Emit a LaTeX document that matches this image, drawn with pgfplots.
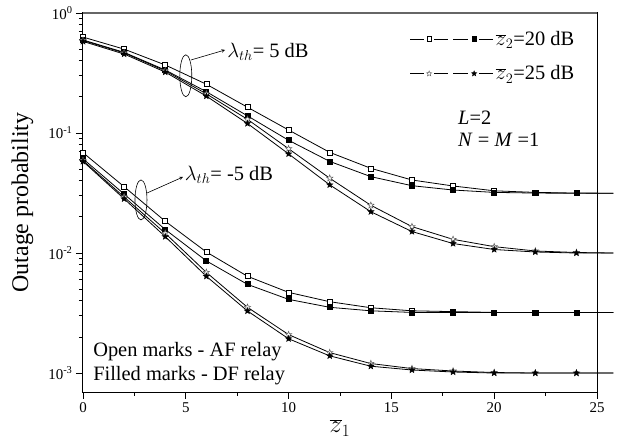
\documentclass[border=0pt]{standalone}
\usepackage{pgfplots}
\pgfplotsset{compat=1.18}
\usepackage{fontspec}
\setmainfont{Liberation Serif}
\pgfdeclareplotmark{pstar}{%
 \pgfpathmoveto{\pgfpointpolar{90}{\pgfplotmarksize}}%
 \pgfpathlineto{\pgfpointpolar{126}{0.42\pgfplotmarksize}}%
 \pgfpathlineto{\pgfpointpolar{162}{\pgfplotmarksize}}%
 \pgfpathlineto{\pgfpointpolar{198}{0.42\pgfplotmarksize}}%
 \pgfpathlineto{\pgfpointpolar{234}{\pgfplotmarksize}}%
 \pgfpathlineto{\pgfpointpolar{270}{0.42\pgfplotmarksize}}%
 \pgfpathlineto{\pgfpointpolar{306}{\pgfplotmarksize}}%
 \pgfpathlineto{\pgfpointpolar{342}{0.42\pgfplotmarksize}}%
 \pgfpathlineto{\pgfpointpolar{18}{\pgfplotmarksize}}%
 \pgfpathlineto{\pgfpointpolar{54}{0.42\pgfplotmarksize}}%
 \pgfpathclose\pgfusepathqfillstroke}

\pgfplotstableread{
x y
0 0.63
2 0.50
4 0.369
6 0.255
8 0.164
10 0.106
12 0.069
14 0.0508
16 0.0406
18 0.0362
20 0.0330
22 0.0320
24 0.0316
25.8 0.0315
}\afA
\pgfplotstableread{
x y
0 0.596
2 0.47
4 0.335
6 0.221
8 0.139
10 0.087
12 0.058
14 0.0433
16 0.0364
18 0.0335
20 0.0320
22 0.0316
24 0.0315
25.8 0.0315
}\dfA
\pgfplotstableread{
x y
0 0.59
2 0.465
4 0.33
6 0.212
8 0.130
10 0.074
12 0.042
14 0.025
16 0.0166
18 0.0130
20 0.0113
22 0.0104
24 0.0101
25.8 0.0100
}\afB
\pgfplotstableread{
x y
0 0.58
2 0.455
4 0.322
6 0.203
8 0.120
10 0.067
12 0.037
14 0.0221
16 0.0151
18 0.0120
20 0.0107
22 0.0102
24 0.0100
25.8 0.0100
}\dfB
\pgfplotstableread{
x y
0 0.0686
2 0.0357
4 0.0184
6 0.0102
8 0.0064
10 0.0047
12 0.00393
14 0.0035
16 0.0033
18 0.00325
20 0.0032
22 0.0032
24 0.0032
25.8 0.0032
}\afC
\pgfplotstableread{
x y
0 0.061
2 0.031
4 0.0157
6 0.0086
8 0.00548
10 0.00411
12 0.00353
14 0.0033
16 0.0032
18 0.0032
20 0.0032
22 0.0032
24 0.0032
25.8 0.0032
}\dfC
\pgfplotstableread{
x y
0 0.059
2 0.0293
4 0.0146
6 0.0069
8 0.00353
10 0.00209
12 0.00148
14 0.00120
16 0.00109
18 0.00104
20 0.00101
22 0.00100
24 0.00100
25.8 0.00100
}\afD
\pgfplotstableread{
x y
0 0.058
2 0.0283
4 0.0137
6 0.0064
8 0.00329
10 0.00193
12 0.00139
14 0.00114
16 0.00106
18 0.00102
20 0.00100
22 0.00100
24 0.00100
25.8 0.00100
}\dfD

\begin{document}
\begin{tikzpicture}
\begin{axis}[
 scale only axis, width=514bp, height=379bp,
 ymode=log, xmin=0, xmax=25, ymin=6.95e-4, ymax=1,
 clip=false,
 axis line style={line width=1bp},
 xtick={0,5,10,15,20,25}, minor x tick num=1,
 ytick={1e-3,1e-2,1e-1,1},
 yticklabels={10\textsuperscript{-3},10\textsuperscript{-2},10\textsuperscript{-1},10\textsuperscript{0}},
 xtick pos=bottom, ytick pos=left, tick align=outside,
 major tick length=7bp, minor tick length=4bp,
 tick style={line width=0.8bp, black},
 /pgf/number format/assume math mode=true,
 tick label style={font=\fontsize{15}{17}\selectfont},
 every axis y label/.style={at={(axis description cs:-0.118,0.5)}, rotate=90, anchor=center, font=\fontsize{24}{26}\selectfont},
 every axis x label/.style={at={(axis description cs:0.5,-0.095)}, anchor=center, font=\fontsize{24}{26}\selectfont},
 ylabel={Outage probability},
 xlabel={$\overline{z}_1$},
 legend style={at={(rel axis cs:0.96,0.958)}, anchor=north east, draw=none, fill=none, font=\fontsize{20.5}{22}\selectfont, inner sep=0pt, row sep=15bp},
 legend cell align=left,
]
\addlegendimage{legend image code/.code={
 \draw[line width=0.8bp] (0bp,0bp)--(14bp,0bp) (24bp,0bp)--(38bp,0bp) (43bp,0bp)--(58bp,0bp) (69bp,0bp)--(83bp,0bp);
 \draw[line width=0.5bp, fill=white] (16.8bp,-2.2bp) rectangle (21.2bp,2.2bp);
 \draw[line width=0.5bp, fill=black] (61.8bp,-2.2bp) rectangle (66.2bp,2.2bp);
}}
\addlegendentry{$\overline{z}_2$=20 dB}
\addlegendimage{legend image code/.code={
 \draw[line width=0.8bp] (0bp,0bp)--(14bp,0bp) (24bp,0bp)--(38bp,0bp) (43bp,0bp)--(58bp,0bp) (69bp,0bp)--(83bp,0bp);
 \begin{scope}[shift={(19bp,0bp)}, draw=gray!70!black, fill=white, line width=0.4bp]
  \pgfsetplotmarksize{2.8bp}\pgfuseplotmark{pstar}
 \end{scope}
 \begin{scope}[shift={(64bp,0bp)}, draw=black, fill=black, line width=0.4bp]
  \pgfsetplotmarksize{2.8bp}\pgfuseplotmark{pstar}
 \end{scope}
}}
\addlegendentry{$\overline{z}_2$=25 dB}

\pgfplotsset{every axis plot/.append style={line width=0.8bp, black, mark indices={1,...,13}}}
\addplot[mark=square*, mark size=2.5bp, mark options={fill=white, line width=0.6bp}, forget plot] table {\afA};
\addplot[mark=square*, mark size=2.5bp, mark options={fill=black}, forget plot] table {\dfA};
\addplot[mark=pstar, mark size=3.3bp, mark options={fill=white, draw=gray!70!black, line width=0.5bp}, forget plot] table {\afB};
\addplot[mark=pstar, mark size=3.3bp, mark options={fill=black, line width=0.4bp}, forget plot] table {\dfB};
\addplot[mark=square*, mark size=2.5bp, mark options={fill=white, line width=0.6bp}, forget plot] table {\afC};
\addplot[mark=square*, mark size=2.5bp, mark options={fill=black}, forget plot] table {\dfC};
\addplot[mark=pstar, mark size=3.3bp, mark options={fill=white, draw=gray!70!black, line width=0.5bp}, forget plot] table {\afD};
\addplot[mark=pstar, mark size=3.3bp, mark options={fill=black, line width=0.4bp}, forget plot] table {\dfD};

\draw[gray!80!black, line width=1.2bp] (rel axis cs:0,1)--(rel axis cs:1,1);
\coordinate (O) at (rel axis cs:0,0);

% annotations
\draw[line width=0.6bp] (axis cs:5.0,0.3) ellipse [x radius=6bp, y radius=21bp];
\draw[line width=0.6bp, -stealth] (axis cs:5.25,0.406) -- (axis cs:6.91,0.492);
\node[anchor=west, inner sep=1pt, font=\fontsize{20.5}{22}\selectfont] at (axis cs:6.96,0.473) {$\lambda_{th}$= 5 dB};
\draw[line width=0.6bp] (axis cs:2.82,0.0277) ellipse [x radius=6bp, y radius=20bp];
\draw[line width=0.6bp, -stealth] (axis cs:3.11,0.0316) -- (axis cs:4.86,0.043);
\node[anchor=west, inner sep=1pt, font=\fontsize{20.5}{22}\selectfont] at (axis cs:4.9,0.0447) {$\lambda_{th}$= -5 dB};

\node[anchor=west, inner sep=0pt, font=\fontsize{20.5}{22}\selectfont] at (axis cs:18.24,0.133) {\textit{L}=2};
\node[anchor=west, inner sep=0pt, font=\fontsize{20.5}{22}\selectfont] at (axis cs:18.24,0.0875) {\textit{N} = \textit{M} =1};
\node[anchor=west, inner sep=0pt, font=\fontsize{20.5}{22}\selectfont] at (axis cs:0.49,0.0015) {Open marks - AF relay};
\node[anchor=west, inner sep=0pt, font=\fontsize{20.5}{22}\selectfont] at (axis cs:0.49,0.000944) {Filled marks - DF relay};
\end{axis}
\pgfresetboundingbox
\path (O) ++(-83bp,-51bp) rectangle ++(621bp,443bp);
\end{tikzpicture}
\end{document}
